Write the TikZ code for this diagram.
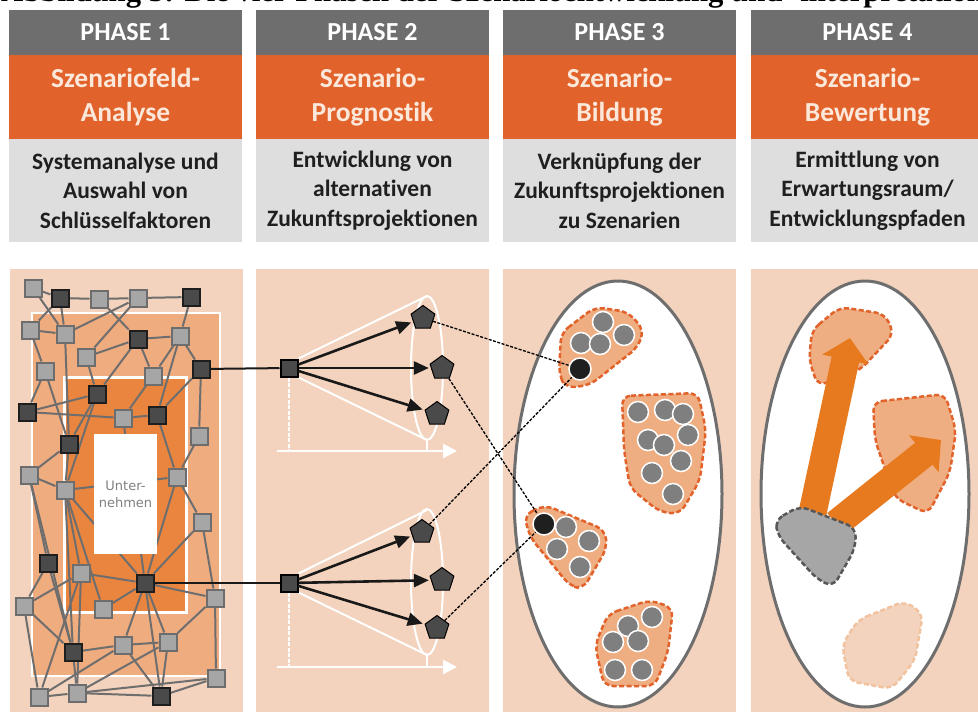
\documentclass[tikz,border=0pt]{standalone}
\usepackage{fontspec}
\setmainfont{Carlito}[Ligatures=NoCommon]
\newfontfamily\titlefont{Liberation Serif}
\newfontfamily\smallfont{DejaVu Sans}
\usepackage{tikz}
\usetikzlibrary{positioning, arrows.meta, shapes.geometric, backgrounds}

\definecolor{hdgray}{HTML}{6F6E6F}
\definecolor{hdorange}{HTML}{E2622B}
\definecolor{hdlight}{HTML}{DEDEDE}
\definecolor{hdcream}{HTML}{FCE8DA}
\definecolor{peach}{HTML}{F3D3BD}
\definecolor{midorange}{HTML}{EFAC7F}
\definecolor{deeporange}{HTML}{E9853F}
\definecolor{sqlight}{HTML}{A6A6A6}
\definecolor{sqline}{HTML}{6D6D6D}
\definecolor{sqdark}{HTML}{4A4A4A}
\definecolor{sqdarkline}{HTML}{1E1E1E}
\definecolor{edgegray}{HTML}{6E6E6E}
\definecolor{ballgray}{HTML}{7F7F7F}
\definecolor{blobfill}{HTML}{EFAE82}
\definecolor{arroworange}{HTML}{E77A1F}
\definecolor{egggray}{HTML}{6E6E6E}
\definecolor{fadeline}{HTML}{F2C29F}
\definecolor{blobgrayline}{HTML}{575757}

\tikzstyle{phasehead} = [fill=hdgray, text=white, inner sep=0pt, minimum width=233, minimum height=45, font=\bfseries\fontsize{26}{30}\selectfont]
\tikzstyle{phasetitle} = [fill=hdorange, text=hdcream, inner sep=0pt, minimum width=233, minimum height=84, align=center, font=\bfseries\fontsize{27.5}{34}\selectfont]
\tikzstyle{phasedesc} = [fill=hdlight, text=black!88, inner sep=0pt, minimum width=233, minimum height=103, align=center, font=\bfseries\fontsize{23.5}{29.5}\selectfont]
\tikzstyle{panel} = [fill=peach, inner sep=0pt, minimum width=233, minimum height=443]
\tikzstyle{zone} = [draw=white, line width=2.5, inner sep=0pt]
\tikzstyle{lsq} = [draw=sqline, fill=sqlight, line width=2, minimum size=17, inner sep=0pt]
\tikzstyle{dsq} = [draw=sqdarkline, fill=sqdark, line width=2, minimum size=17, inner sep=0pt]
\tikzstyle{net} = [draw=edgegray, line width=2]
\tikzstyle{penta} = [regular polygon, regular polygon sides=5, draw=black, fill=sqdark, line width=1, minimum size=25, inner sep=0pt]
\tikzstyle{fan} = [draw=black!90, line width=2.6, -{Triangle[length=15pt, width=13pt]}, shorten >=2pt]
\tikzstyle{link} = [draw=black!90, line width=2]
\tikzstyle{dlink} = [draw=black, line width=1.3, dash pattern=on 3pt off 1.5pt]
\tikzstyle{cone} = [draw=white, line width=2]
\tikzstyle{egg} = [draw=egggray, fill=white, line width=3]
\tikzstyle{cluster} = [draw=hdorange, fill=blobfill, line width=2.5, dash pattern=on 5pt off 2.5pt, rounded corners=9pt]
\tikzstyle{fadeblob} = [draw=fadeline, fill=peach, line width=2.5, dash pattern=on 5pt off 2.5pt, rounded corners=9pt]
\tikzstyle{grayblob} = [draw=blobgrayline, fill=sqlight, line width=2.5, dash pattern=on 5pt off 2.5pt, rounded corners=9pt]
\tikzstyle{ball} = [circle, draw=white, fill=ballgray, line width=1.5, minimum size=21, inner sep=0pt]
\tikzstyle{blackball} = [circle, draw=white, fill=black!88, line width=1.5, minimum size=22, inner sep=0pt]
\tikzstyle{bigarrow} = [draw=arroworange, line width=28, -{Triangle[length=22pt, width=46pt]}]

\begin{document}
\begin{tikzpicture}[x=1pt, y=-1pt]
\useasboundingbox (0,0) rectangle (978,713);
\clip (0,0) rectangle (978,713);

% caption, cut off at the top
\node[anchor=base west, inner sep=0pt] (caption) at (1,1) {\titlefont\bfseries\fontsize{30.7}{32}\selectfont Abbildung 3: Die vier Phasen der Szenarioentwicklung und -interpretation};

% header rows
\node[phasehead] (head1) at (125.5,32.5) {PHASE 1};
\node[phasehead] (head2) at (372.5,32.5) {PHASE 2};
\node[phasehead] (head3) at (619.5,32.5) {PHASE 3};
\node[phasehead] (head4) at (867.5,32.5) {PHASE 4};
\node[phasetitle] (title1) at (125.5,97) {Szenariofeld-\\Analyse};
\node[phasetitle] (title2) at (372.5,97) {Szenario-\\Prognostik};
\node[phasetitle] (title3) at (619.5,97) {Szenario-\\Bildung};
\node[phasetitle] (title4) at (867.5,97) {Szenario-\\Bewertung};
\node[phasedesc] (desc1) at (125.5,190.5) {Systemanalyse und\\Auswahl von\\Schlüsselfaktoren};
\node[phasedesc] (desc2) at (372.5,190.5) {Entwicklung von\\alternativen\\Zukunftsprojektionen};
\node[phasedesc] (desc3) at (619.5,190.5) {Verknüpfung der\\Zukunftsprojektionen\\zu Szenarien};
\node[phasedesc] (desc4) at (867.5,190.5) {Ermittlung von\\Erwartungsraum/\\Entwicklungspfaden};

\begin{pgfonlayer}{background}
\node[panel] (panel1) at (126,490.5) {};
\node[panel] (panel2) at (372.5,490.5) {};
\node[panel] (panel3) at (619.5,490.5) {};
\node[panel] (panel4) at (867.5,490.5) {};
\node[zone, fill=midorange, minimum width=188, minimum height=363] (outerzone) at (126,494.5) {};
\node[zone, fill=deeporange, line width=3, minimum width=122, minimum height=235] (innerzone) at (125,494.5) {};
\end{pgfonlayer}

% phase 1: factor network
\foreach \n/\x/\y in {n1/33/288, n3/99/299, n4/138/298, n6/30/330, n7/65/334, n9/180/336, n10/86/357, n11/45/371, n13/153/376, n16/123/418, n18/199/436, n20/29/475, n21/177/477, n22/65/490, n23/202/522, n25/81/573, n27/24/606, n28/103/609, n29/215/598, n31/123/645, n32/168/642, n33/216/678, n34/39/697, n35/77/693}
  \node[lsq] (\n) at (\x,\y) {};
\foreach \n/\x/\y in {n2/60/298, n5/191/297, n8/138/339, n12/201/369, n14/97/394, n15/27/412, n17/157/415, n19/69/444, n24/48/563, n26/145/583, n30/73/652, n36/161/696}
  \node[dsq] (\n) at (\x,\y) {};

\begin{pgfonlayer}{background}
\foreach \a/\b in {n1/n2, n1/n7, n2/n3, n2/n6, n2/n7, n3/n4, n3/n8, n4/n5, n4/n7, n4/n10, n5/n9, n6/n7, n6/n11, n7/n19, n8/n9, n8/n10, n8/n13, n8/n14, n9/n12, n9/n13, n9/n17, n10/n14, n11/n15, n11/n19, n12/n18, n12/n17, n13/n16, n14/n15, n14/n19, n15/n16, n16/n17, n17/n21, n18/n21, n16/n26, n14/n22, n19/n20, n19/n22, n20/n22, n20/n24, n20/n30, n21/n22, n21/n23, n21/n26, n22/n26, n22/n28, n22/n25, n22/n30, n23/n26, n23/n29, n24/n27, n24/n30, n25/n26, n25/n27, n25/n34, n25/n35, n26/n28, n26/n29, n26/n31, n26/n32, n26/n36, n27/n30, n27/n34, n30/n31, n30/n35, n31/n32, n31/n36, n31/n34, n32/n29, n32/n35, n32/n36, n29/n33, n33/n36, n33/n35, n34/n35, n35/n36}
  \draw[net] (\a) -- (\b);
\node[fill=white, minimum width=63, minimum height=120, inner sep=0pt, align=center, text=black!50, font=\smallfont\fontsize{13}{17}\selectfont] (firm) at (125.5,494) {Unter-\\nehmen};
\end{pgfonlayer}

% phase 2: projections
\node[dsq, draw=black] (cueA) at (289,368) {};
\node[penta] (futA1) at (423,318) {};
\node[penta] (futA2) at (442,368) {};
\node[penta] (futA3) at (437,414) {};
\node[dsq, draw=black] (cueB) at (289,583) {};
\node[penta] (futB1) at (422,532) {};
\node[penta] (futB2) at (442,580) {};
\node[penta] (futB3) at (437,628) {};
\coordinate (topA) at (427,296);
\coordinate (botA) at (427,440);
\coordinate (topB) at (427,510);
\coordinate (botB) at (427,655);
\coordinate (axisA) at (289,451);
\coordinate (axisB) at (289,667);

\begin{pgfonlayer}{background}
\draw[cone] (427,368) ellipse [x radius=16, y radius=72];
\draw[cone] (cueA.north east) -- (topA);
\draw[cone] (cueA.south east) -- (botA);
\draw[cone, dash pattern=on 4pt off 1.5pt] (cueA.south) -- (axisA);
\draw[cone] (botA) -- (427,451);
\draw[cone, line width=2.5, -{Triangle[length=14pt, width=14pt]}] (277,451) -- (457,451);
\draw[cone] (427,582) ellipse [x radius=16, y radius=73];
\draw[cone] (cueB.north east) -- (topB);
\draw[cone] (cueB.south east) -- (botB);
\draw[cone, dash pattern=on 4pt off 1.5pt] (cueB.south) -- (axisB);
\draw[cone] (botB) -- (427,667);
\draw[cone, line width=2.5, -{Triangle[length=14pt, width=14pt]}] (277,667) -- (457,667);
\end{pgfonlayer}

\draw[link] (n12) -- (cueA);
\draw[link] (n26) -- (cueB);
\foreach \t in {futA1, futA2, futA3} \draw[fan] (cueA) -- (\t);
\foreach \t in {futB1, futB2, futB3} \draw[fan] (cueB) -- (\t);

% phase 3: scenario clusters
\draw[egg] (618,494) ellipse [x radius=104, y radius=213];
\draw[cluster] (561,333) -- (595,307) -- (628,312) -- (644,330) -- (638,347) -- (590,385) -- (566,388) -- (559,375) -- cycle;
\draw[cluster] (622,396) -- (698,393) -- (706,430) -- (700,480) -- (680,514) -- (660,512) -- (630,488) -- (624,450) -- cycle;
\draw[cluster] (524,515) -- (545,505) -- (605,530) -- (607,548) -- (583,589) -- (570,586) -- (530,537) -- cycle;
\draw[cluster] (608,614) -- (650,600) -- (673,608) -- (668,652) -- (655,686) -- (604,686) -- (595,645) -- cycle;
\foreach \x/\y [count=\i] in {603/322, 581/343, 624/335, 600/344}
  \node[ball] (ballA\i) at (\x,\y) {};
\foreach \x/\y [count=\i] in {638/412, 665/410, 683/414, 688/435, 648/440, 664/445, 681/461, 652/473, 673/494}
  \node[ball] (ballB\i) at (\x,\y) {};
\foreach \x/\y [count=\i] in {566/527, 589/541, 557/549, 580/567}
  \node[ball] (ballC\i) at (\x,\y) {};
\foreach \x/\y [count=\i] in {652/617, 628/626, 613/642, 638/641, 615/670, 642/670}
  \node[ball] (ballD\i) at (\x,\y) {};
\node[blackball] (sceneA) at (580,369) {};
\node[blackball] (sceneB) at (544,524) {};

\draw[dlink] (futA1) -- (sceneA);
\draw[dlink] (futA2) -- (sceneB);
\draw[dlink] (futB1) -- (sceneA);
\draw[dlink] (futB3) -- (sceneB);

% phase 4: evaluation
\draw[egg] (865,494) ellipse [x radius=104, y radius=213];
\draw[cluster] (812,330) -- (840,307) -- (885,314) -- (894,334) -- (860,370) -- (818,386) -- (809,360) -- cycle;
\draw[cluster] (873,402) -- (945,394) -- (956,430) -- (950,472) -- (928,514) -- (895,498) -- (875,440) -- cycle;
\draw[fadeblob] (858,620) -- (905,601) -- (923,614) -- (915,660) -- (892,689) -- (849,681) -- (842,645) -- cycle;
\coordinate (startup) at (811,520);
\coordinate (tipup) at (850,338);
\coordinate (startright) at (836,524);
\coordinate (tipright) at (941,440);
\draw[bigarrow] (startup) -- (tipup);
\draw[bigarrow] (startright) -- (tipright);
\draw[grayblob] (775,520) -- (800,506) -- (856,528) -- (855,549) -- (833,587) -- (817,579) -- (778,536) -- cycle;
\end{tikzpicture}
\end{document}
